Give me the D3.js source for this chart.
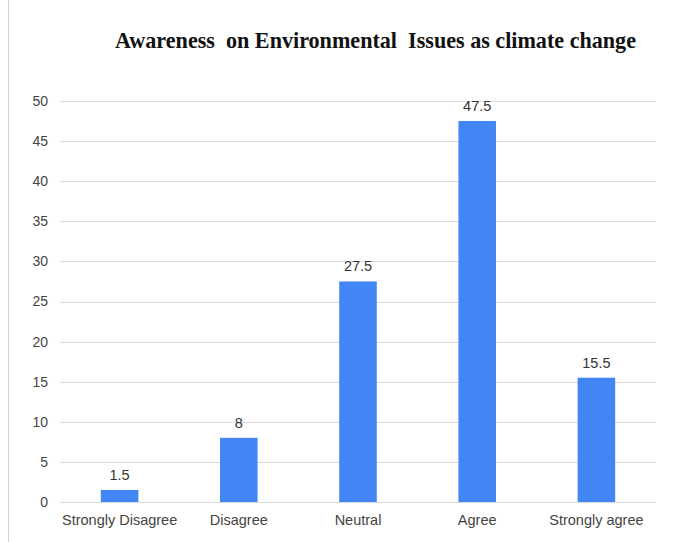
<!DOCTYPE html>
<html>
<head>
<meta charset="utf-8">
<script src="https://cdn.jsdelivr.net/npm/d3@7/dist/d3.min.js"></script>
<style>
  html, body { margin: 0; padding: 0; background: #fff; }
  svg { display: block; }
</style>
</head>
<body>
<svg id="chart" width="697" height="542"></svg>
<script>
const categories = ["Strongly Disagree", "Disagree", "Neutral", "Agree", "Strongly agree"];
const values = [1.5, 8, 27.5, 47.5, 15.5];
const valueLabels = ["1.5", "8", "27.5", "47.5", "15.5"];
const yTicks = [0, 5, 10, 15, 20, 25, 30, 35, 40, 45, 50];
const title = "Awareness  on Environmental  Issues as climate change";

const svg = d3.select("#chart");
const W = 697, H = 542;
const plot = { left: 60, right: 656, top: 101, bottom: 502 };

// Frame edge on the left
svg.append("line")
  .attr("x1", 8.5).attr("x2", 8.5).attr("y1", 0).attr("y2", H)
  .attr("stroke", "#d0d0d0").attr("stroke-width", 1);

const x = d3.scaleBand()
  .domain(categories)
  .range([plot.left, plot.right])
  .paddingInner(0.685)
  .paddingOuter(0.3425);

const y = d3.scaleLinear().domain([0, 50]).range([plot.bottom, plot.top]);

// Horizontal gridlines
svg.append("g")
  .selectAll("line")
  .data(yTicks)
  .join("line")
  .attr("x1", plot.left).attr("x2", plot.right)
  .attr("y1", d => Math.round(y(d)) + 0.5).attr("y2", d => Math.round(y(d)) + 0.5)
  .attr("stroke", "#d9d9d9").attr("stroke-width", 1);

// Y axis labels
const yAxis = d3.axisLeft(y).tickValues(yTicks).tickSize(0).tickPadding(0);
const gy = svg.append("g").attr("transform", `translate(${plot.left - 12},0)`).call(yAxis);
gy.select(".domain").remove();
gy.selectAll("text")
  .attr("font-family", "Liberation Sans, Arial, sans-serif")
  .attr("font-size", 14)
  .attr("fill", "#444");

// Bars
svg.append("g")
  .selectAll("rect")
  .data(values)
  .join("rect")
  .attr("x", (d, i) => x(categories[i]))
  .attr("width", x.bandwidth())
  .attr("y", d => y(d))
  .attr("height", d => y(0) - y(d))
  .attr("fill", "#4285f4");

// Value labels above the bars
svg.append("g")
  .selectAll("text")
  .data(values)
  .join("text")
  .attr("x", (d, i) => x(categories[i]) + x.bandwidth() / 2)
  .attr("y", d => y(d) - 10)
  .attr("text-anchor", "middle")
  .attr("font-family", "Liberation Sans, Arial, sans-serif")
  .attr("font-size", 14.5)
  .attr("fill", "#333")
  .text((d, i) => valueLabels[i]);

// Category axis
const xAxis = d3.axisBottom(x).tickSize(0).tickPadding(0);
const gx = svg.append("g").attr("transform", `translate(0,${plot.bottom + 13})`).call(xAxis);
gx.select(".domain").remove();
gx.selectAll("text")
  .attr("font-family", "Liberation Sans, Arial, sans-serif")
  .attr("font-size", 14.5)
  .attr("fill", "#444");

// Title
svg.append("text")
  .attr("x", 375.5).attr("y", 48)
  .attr("text-anchor", "middle")
  .attr("font-family", "Liberation Serif, Times New Roman, serif")
  .attr("font-weight", "bold")
  .attr("font-size", 23)
  .attr("textLength", 521)
  .attr("lengthAdjust", "spacingAndGlyphs")
  .attr("fill", "#111")
  .style("white-space", "pre")
  .text(title);
</script>
</body>
</html>
